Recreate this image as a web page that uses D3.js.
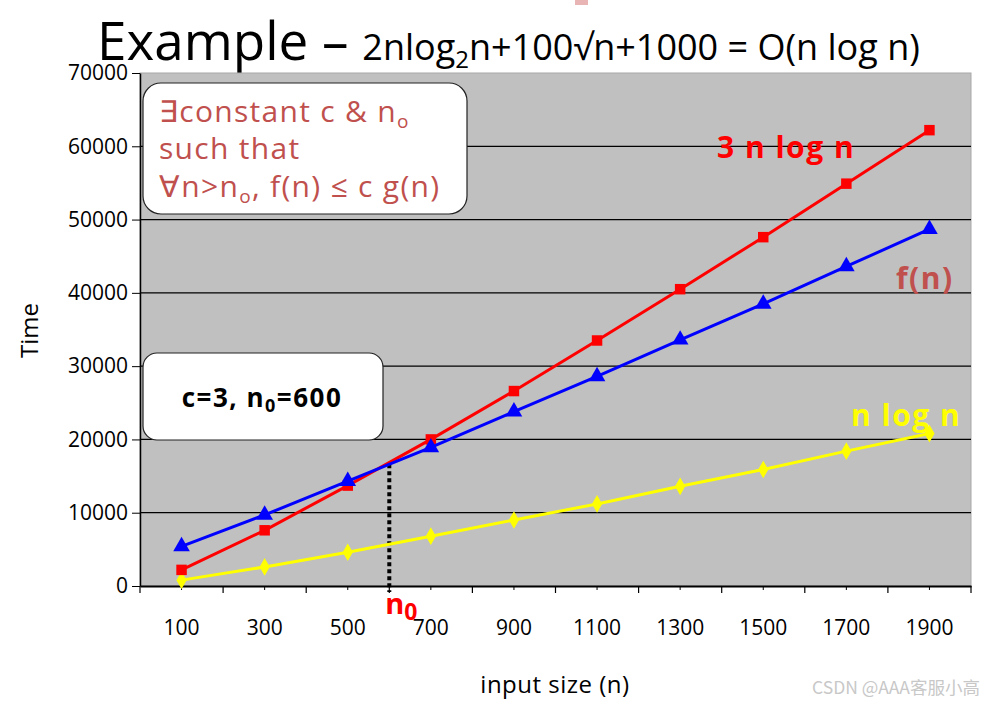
<!DOCTYPE html>
<html>
<head>
<meta charset="utf-8">
<script src="https://cdn.jsdelivr.net/npm/d3@7"></script>
<style>
  body { margin: 0; background: #fff; }
  svg { display: block; }
</style>
</head>
<body>
<svg id="drawing_region" width="984" height="704"></svg>
<script>
// values
var sizes = ["100", "300", "500", "700", "900", "1100", "1300", "1500", "1700", "1900"];
var threeNlogN = [2200, 7600, 13700, 20000, 26600, 33500, 40500, 47600, 54900, 62200];
var fOfN = [5400, 9700, 14300, 18900, 23800, 28600, 33600, 38500, 43600, 48700];
var nLogN = [800, 2600, 4600, 6800, 9000, 11200, 13600, 15900, 18400, 20800];
var yTicks = [0, 10000, 20000, 30000, 40000, 50000, 60000, 70000];

var comic = '"Comic Sans MS", "Open Sans", sans-serif';
var narrow = '"Liberation Sans Narrow", "Open Sans", sans-serif';

var margin = { top: 73, right: 13, bottom: 118, left: 140 };
var width = 984, height = 704;
var inner_width = width - margin.left - margin.right;
var inner_height = height - margin.top - margin.bottom;

var svg = d3.select('#drawing_region');

// little pink mark at the top
svg.append('rect').attr('x', 575).attr('y', 0).attr('width', 13).attr('height', 5).attr('fill', '#e9b4b4');

// title
var title = svg.append('text')
    .attr('x', 97).attr('y', 60)
    .style('font-family', narrow)
    .attr('fill', '#000');
title.append('tspan').style('font-size', '53px').text('Example – ');
title.append('tspan').style('font-size', '36px').text('2nlog');
title.append('tspan').style('font-size', '24px').attr('dy', 8).text('2');
title.append('tspan').style('font-size', '36px').attr('dy', -8).text('n+100√n+1000 = O(n log n)');

var chart = svg.append('g')
    .attr('transform', `translate(${margin.left}, ${margin.top})`);

const xscale = d3.scaleBand()
    .domain(sizes)
    .range([0, inner_width])
    .padding(0);

const yscale = d3.scaleLinear()
    .domain([0, 70000])
    .range([inner_height, 0]);

// plot background
chart.append('rect')
    .attr('width', inner_width).attr('height', inner_height)
    .attr('fill', '#c0c0c0')
    .attr('stroke', '#a8a8a8').attr('stroke-width', 1);

// grid lines
chart.selectAll('.grid')
    .data(yTicks.slice(1, -1))
    .join('line')
    .attr('x1', 0).attr('x2', inner_width)
    .attr('y1', d => yscale(d)).attr('y2', d => yscale(d))
    .attr('stroke', '#000').attr('stroke-width', 1.2);

// y axis
const yaxis = d3.axisLeft(yscale)
    .tickValues(yTicks)
    .tickSize(8)
    .tickSizeOuter(0)
    .tickFormat(d3.format('d'));
const yaxis_group = chart.append('g').call(yaxis);
yaxis_group.select('.domain').attr('stroke', '#000').attr('stroke-width', 1.5);
yaxis_group.selectAll('.tick line').attr('stroke', '#000');
yaxis_group.selectAll('.tick text')
    .attr('x', -12)
    .style('font-family', comic).style('font-size', '21px').attr('fill', '#000');

// x axis: labels at band centres, long ticks at band edges
const xaxis = d3.axisBottom(xscale).tickSize(0).tickSizeOuter(0);
const xaxis_group = chart.append('g')
    .attr('transform', `translate(0, ${inner_height})`)
    .call(xaxis);
xaxis_group.select('.domain').attr('stroke', '#000').attr('stroke-width', 2);
xaxis_group.selectAll('.tick text')
    .attr('y', 34)
    .style('font-family', comic).style('font-size', '21px').attr('fill', '#000');

var edges = sizes.map(s => xscale(s)).concat([inner_width]);
xaxis_group.selectAll('.edge')
    .data(edges)
    .join('line')
    .attr('x1', d => d).attr('x2', d => d)
    .attr('y1', 0).attr('y2', 7)
    .attr('stroke', '#000').attr('stroke-width', 1.2);
xaxis_group.selectAll('.mid')
    .data(sizes)
    .join('line')
    .attr('x1', d => xscale(d) + xscale.bandwidth() / 2)
    .attr('x2', d => xscale(d) + xscale.bandwidth() / 2)
    .attr('y1', 0).attr('y2', 4)
    .attr('stroke', '#000').attr('stroke-width', 1);

// axis titles
svg.append('text')
    .attr('transform', `translate(38, ${margin.top + inner_height / 2 + 1}) rotate(-90)`)
    .attr('text-anchor', 'middle')
    .style('font-family', comic).style('font-size', '24px')
    .text('Time');

svg.append('text')
    .attr('x', 555).attr('y', 693)
    .attr('text-anchor', 'middle')
    .style('font-family', comic).style('font-size', '24px')
    .style('letter-spacing', '0.5px')
    .text('input size (n)');

// series
const cx = d => xscale(d) + xscale.bandwidth() / 2;

function drawSeries(values, color, symbol, size) {
    var pts = sizes.map((s, i) => ({ label: s, value: values[i] }));
    chart.append('path')
        .datum(pts)
        .attr('fill', 'none')
        .attr('stroke', color)
        .attr('stroke-width', 3)
        .attr('d', d3.line().x(d => cx(d.label)).y(d => yscale(d.value)));
    chart.append('g')
        .selectAll('path')
        .data(pts)
        .join('path')
        .attr('transform', d => `translate(${cx(d.label)}, ${yscale(d.value)})`)
        .attr('d', d3.symbol().type(symbol).size(size))
        .attr('fill', color);
}

// dotted n0 line, from where f(n) and 3nlogn cross down past the axis
var n0x = xscale("500") + xscale.bandwidth();
var n0y = yscale((fOfN[2] + fOfN[3]) / 2);
chart.append('line')
    .attr('x1', n0x).attr('x2', n0x)
    .attr('y1', n0y).attr('y2', inner_height + 6)
    .attr('stroke', '#000').attr('stroke-width', 4)
    .attr('stroke-dasharray', '4,3');

drawSeries(nLogN, '#ffff00', d3.symbolDiamond, 90);
drawSeries(threeNlogN, '#ff0000', d3.symbolSquare, 110);
drawSeries(fOfN, '#0000ff', d3.symbolTriangle, 120);

// n0 label
var n0label = svg.append('text')
    .attr('x', margin.left + n0x - 4).attr('y', margin.top + inner_height + 28)
    .attr('fill', '#ff0000')
    .style('font-family', comic).style('font-weight', 'bold').style('font-size', '29px');
n0label.append('tspan').text('n');
n0label.append('tspan').attr('dy', 6).style('font-size', '23px').text('0');

// series labels
function seriesLabel(x, y, color, txt) {
    svg.append('text')
        .attr('x', x).attr('y', y)
        .attr('fill', color)
        .style('font-family', comic).style('font-weight', 'bold').style('font-size', '30px')
        .style('letter-spacing', '1.5px')
        .text(txt);
}
seriesLabel(717, 158, '#ff0000', '3 n log n');
seriesLabel(896, 289, '#c0504d', 'f(n)');
seriesLabel(851, 426, '#ffff00', 'n log n');

// annotation boxes
svg.append('rect')
    .attr('x', 143).attr('y', 83).attr('width', 324).attr('height', 131)
    .attr('rx', 18)
    .attr('fill', '#fff').attr('stroke', '#222').attr('stroke-width', 1.2);

var noteColor = '#c0504d';
function noteLine(y) {
    return svg.append('text').attr('x', 159).attr('y', y)
        .attr('fill', noteColor).style('font-family', comic).style('font-size', '30px')
        .style('letter-spacing', '1.3px');
}
var l1 = noteLine(122);
l1.append('tspan').text('∃constant c & n');
l1.append('tspan').attr('dy', 6).style('font-size', '19px').text('o');

noteLine(159).text('such that');

var l3 = noteLine(197);
l3.append('tspan').text('∀n>n');
l3.append('tspan').attr('dy', 6).style('font-size', '19px').text('o');
l3.append('tspan').attr('dy', -6).text(', f(n) ≤ c g(n)');

svg.append('rect')
    .attr('x', 143).attr('y', 353).attr('width', 240).attr('height', 87)
    .attr('rx', 14)
    .attr('fill', '#fff').attr('stroke', '#222').attr('stroke-width', 1.2);

var cbox = svg.append('text').attr('x', 262).attr('y', 407)
    .attr('text-anchor', 'middle')
    .attr('fill', '#000').style('font-family', comic).style('font-weight', 'bold').style('font-size', '26px')
    .style('letter-spacing', '1.5px');
cbox.append('tspan').text('c=3, n');
cbox.append('tspan').attr('dy', 5).style('font-size', '18px').text('0');
cbox.append('tspan').attr('dy', -5).text('=600');

// watermark
svg.append('text')
    .attr('x', 980).attr('y', 694)
    .attr('text-anchor', 'end')
    .attr('fill', '#c8c8c8')
    .style('font-family', '"Noto Sans CJK SC", "Noto Sans", sans-serif').style('font-size', '17.5px')
    .text('CSDN @AAA客服小高');
</script>
</body>
</html>
